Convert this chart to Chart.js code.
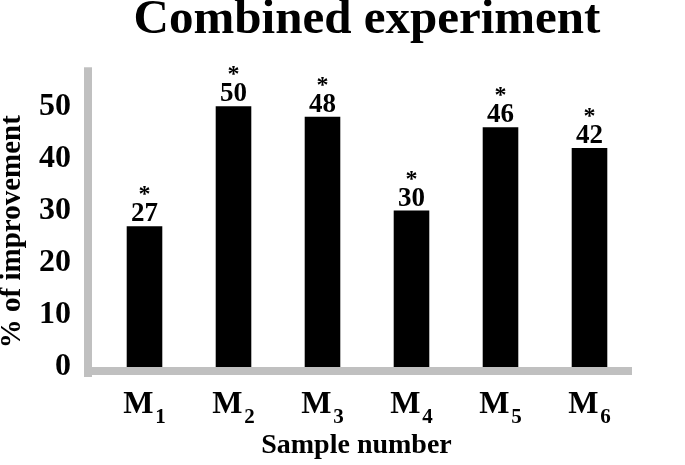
<!DOCTYPE html>
<html>
<head>
<meta charset="utf-8">
<script src="https://cdn.jsdelivr.net/npm/chart.js@4/dist/chart.umd.min.js"></script>
<style>
  body { margin: 0; background: #fff; }
  canvas { display: block; }
</style>
</head>
<body>
<canvas id="improvementChart" width="685" height="465"></canvas>
<script>
const samples = ['1', '2', '3', '4', '5', '6'];
const improvement = [27, 50, 48, 30, 46, 42];
const significance = ['*', '*', '*', '*', '*', '*'];
const yTicks = [0, 10, 20, 30, 40, 50];

const serif = "'Liberation Serif', 'Times New Roman', serif";
const axisGray = '#c0c0c0';

// gray axis lines, M-subscript labels and value labels
const decorations = {
    id: 'decorations',
    afterDatasetsDraw(chart) {
        const ctx = chart.ctx;
        const area = chart.chartArea;
        const meta = chart.getDatasetMeta(0);
        const xScale = chart.scales.x;

        ctx.save();
        ctx.fillStyle = axisGray;
        ctx.fillRect(area.left - 16, area.top, 8, area.bottom - area.top + 10);
        ctx.fillRect(area.left - 16, area.bottom, area.right - area.left + 14, 8);

        ctx.fillStyle = '#000';
        ctx.textBaseline = 'alphabetic';
        meta.data.forEach((bar, i) => {
            ctx.textAlign = 'center';
            ctx.font = 'bold 27px ' + serif;
            ctx.fillText(String(improvement[i]), bar.x, bar.y - 5);
            ctx.font = 'bold 24px ' + serif;
            ctx.fillText(significance[i], bar.x, bar.y - 25);

            // x tick label: M with subscript
            const cx = xScale.getPixelForValue(i);
            ctx.font = 'bold 32px ' + serif;
            const mWidth = ctx.measureText('M').width;
            ctx.font = 'bold 21px ' + serif;
            const subWidth = ctx.measureText(samples[i]).width;
            const start = cx - (mWidth + 2 + subWidth) / 2;
            ctx.textAlign = 'left';
            ctx.font = 'bold 32px ' + serif;
            ctx.fillText('M', start, 413);
            ctx.font = 'bold 21px ' + serif;
            ctx.fillText(samples[i], start + mWidth + 2, 423);
        });
        ctx.restore();
    }
};

new Chart(document.getElementById('improvementChart'), {
    type: 'bar',
    data: {
        labels: samples.map(s => 'M' + s),
        datasets: [{
            data: improvement,
            backgroundColor: '#000',
            borderWidth: 0,
            categoryPercentage: 1,
            barPercentage: 0.4,
        }],
    },
    options: {
        responsive: false,
        animation: false,
        devicePixelRatio: 1,
        layout: { padding: { top: 0, right: 51, bottom: 0, left: 0 } },
        plugins: {
            legend: { display: false },
            tooltip: { enabled: false },
            title: {
                display: true,
                text: 'Combined experiment',
                fullSize: false,
                color: '#000',
                font: { family: serif, size: 49, weight: 'bold', lineHeight: 0.72 },
                padding: { top: 3, bottom: 29 },
            },
        },
        scales: {
            x: {
                grid: { display: false, drawTicks: false },
                border: { display: false },
                ticks: { display: false },
                title: {
                    display: true,
                    text: 'Sample number\u00a0\u00a0\u00a0',
                    color: '#000',
                    font: { family: serif, size: 28, weight: 'bold', lineHeight: 1 },
                    padding: { top: 64.5, bottom: 5.5 },
                },
            },
            y: {
                min: 0,
                max: 57.5,
                afterBuildTicks: scale => {
                    scale.ticks = yTicks.map(v => ({ value: v }));
                },
                grid: { display: false, drawTicks: false },
                border: { display: false },
                ticks: {
                    color: '#000',
                    padding: 29,
                    font: { family: serif, size: 32, weight: 'bold' },
                },
                title: {
                    display: true,
                    text: '% of improvement\u00a0\u00a0\u00a0\u00a0',
                    color: '#000',
                    font: { family: serif, size: 29, weight: 'bold', lineHeight: 0.1 },
                    padding: { top: 11.5, bottom: -4.4 },
                },
            },
        },
    },
    plugins: [decorations],
});
</script>
</body>
</html>
